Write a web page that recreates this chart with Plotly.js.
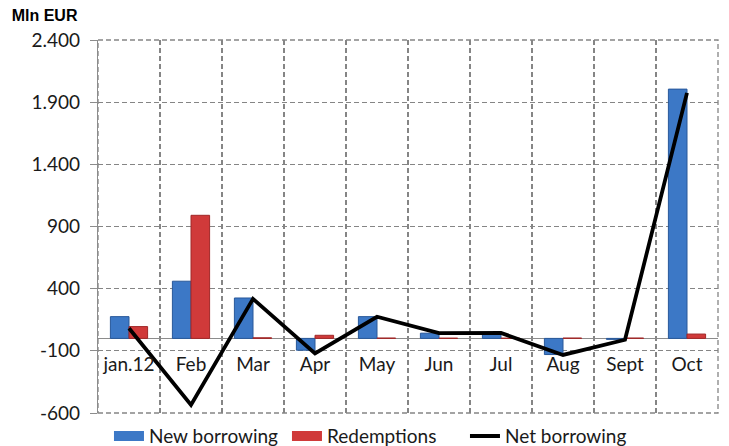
<!DOCTYPE html>
<html>
<head>
<meta charset="utf-8">
<script src="https://cdn.plot.ly/plotly-3.0.1.min.js"></script>
<style>html,body{margin:0;padding:0;background:#fff;}#chart{width:729px;height:446px;}</style>
</head>
<body>
<div id="chart"></div>
<script>
const categories = ['jan.12','Feb','Mar','Apr','May','Jun','Jul','Aug','Sept','Oct'];
const newBorrowing = [175, 460, 325, -95, 175, 42, 45, -130, -8, 2005];
const redemptions = [95, 990, 5, 25, 3, 2, 2, 3, 3, 35];
const netBorrowing = [82, -535, 318, -120, 174, 42, 44, -133, -11, 1975];
const yTickVals = [-600, -100, 400, 900, 1400, 1900, 2400];
const yTickText = ['-600', '-100', '400', '900', '1.400', '1.900', '2.400'];
const seriesNames = ['New borrowing', 'Redemptions', 'Net borrowing'];

const FONT = 'Lato, "Open Sans", sans-serif';
const BLUE = '#3C78C6', RED = '#D03A3A';
const data = [
  {type:'bar', name:seriesNames[0], x:categories, y:newBorrowing, showlegend:false,
   marker:{color:BLUE, line:{color:'#28589A', width:1}}},
  {type:'bar', name:seriesNames[1], x:categories, y:redemptions, showlegend:false,
   marker:{color:RED, line:{color:'#A02828', width:1}}},
  {type:'scatter', mode:'lines', name:seriesNames[2], x:categories, y:netBorrowing, showlegend:false,
   line:{color:'#000000', width:3.8}},
  // legend entries (wide rectangular keys like the reference)
  {type:'scatter', mode:'lines', name:seriesNames[0], x:[null], y:[null], showlegend:true,
   line:{color:BLUE, width:10}},
  {type:'scatter', mode:'lines', name:seriesNames[1], x:[null], y:[null], showlegend:true,
   line:{color:RED, width:10}},
  {type:'scatter', mode:'lines', name:seriesNames[2], x:[null], y:[null], showlegend:true,
   line:{color:'#000000', width:3.8}}
];
const layout = {
  width:729, height:446,
  margin:{l:98, r:11, t:40, b:33, autoexpand:false},
  paper_bgcolor:'#fff', plot_bgcolor:'#fff',
  font:{family:FONT, size:19, color:'#262626'},
  barmode:'group', bargap:0.4, bargroupgap:0,
  showlegend:true,
  legend:{orientation:'h', x:0.0177, xanchor:'left', y:-0.062, yanchor:'middle',
          font:{family:FONT, size:19, color:'#1a1a1a'}, traceorder:'normal', itemwidth:30,
          entrywidth:133, bgcolor:'rgba(0,0,0,0)'},
  title:{text:'<b>Mln EUR</b>', x:0.016, xanchor:'left', y:0.965, yanchor:'middle',
         font:{family:'"Liberation Sans", Arial, sans-serif', size:16, color:'#000'}},
  xaxis:{type:'category', anchor:'free', position:0.2, tickson:'boundaries',
         showgrid:true, gridcolor:'#858585', gridwidth:1.3, griddash:'5px,3px',
         showline:false, ticks:'', ticklabelstandoff:13,
         tickfont:{family:FONT, size:19, color:'#1a1a1a'}, fixedrange:true},
  yaxis:{range:[-600, 2400], tickmode:'array', tickvals:yTickVals, ticktext:yTickText,
         showgrid:true, gridcolor:'#858585', gridwidth:1.3, griddash:'5px,3px',
         showline:true, linecolor:'#8c8c8c', linewidth:1.2,
         ticks:'outside', ticklen:7, tickcolor:'#8c8c8c', ticklabelstandoff:6,
         zeroline:true, zerolinecolor:'#8c8c8c', zerolinewidth:1.2,
         tickfont:{family:FONT, size:19, color:'#1a1a1a'}, fixedrange:true},
  shapes:[{type:'rect', xref:'x domain', yref:'y domain', x0:0, x1:1, y0:0, y1:1,
           line:{color:'#858585', width:1.3, dash:'5px,3px'}, layer:'below'}]
};
Plotly.newPlot('chart', data, layout, {displayModeBar:false, staticPlot:true});
</script>
</body>
</html>
